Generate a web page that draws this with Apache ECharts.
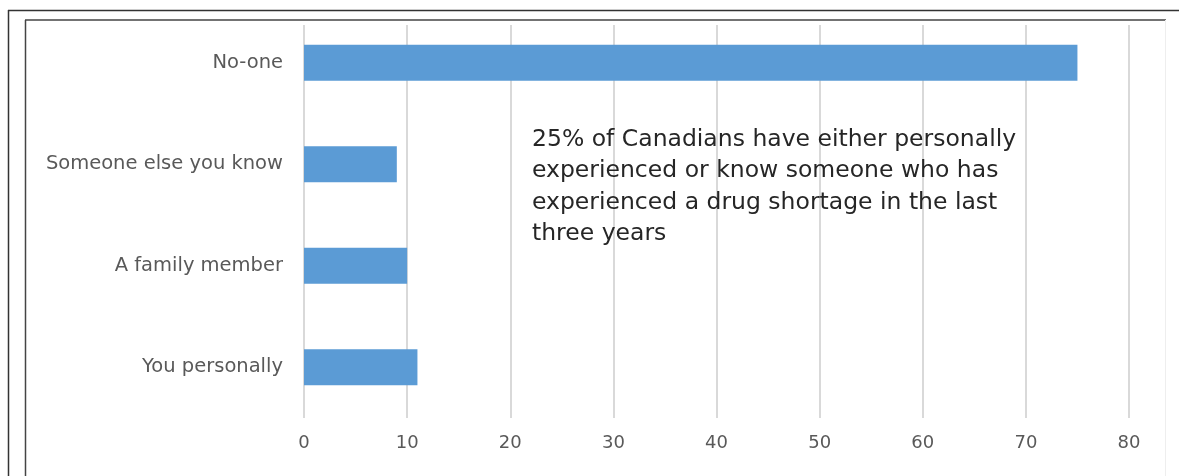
<!DOCTYPE html>
<html>
<head>
<meta charset="utf-8">
<style>
  html, body { margin: 0; padding: 0; background: #fff; }
  #chart { width: 1179px; height: 476px; }
</style>
<script src="https://cdn.jsdelivr.net/npm/echarts@6/dist/echarts.min.js"></script>
</head>
<body>
<div id="chart"></div>
<script>
// Who has experienced a drug shortage in the last three years (percent)
const categories = ['No-one', 'Someone else you know', 'A family member', 'You personally'];
const values = [75, 9, 10, 11];
const xTicks = [0, 10, 20, 30, 40, 50, 60, 70, 80];
const note = [
  '25% of Canadians have either personally',
  'experienced or know someone who has',
  'experienced a drug shortage in the last',
  'three years'
];

const chart = echarts.init(document.getElementById('chart'));
const labelFont = '"DejaVu Sans", sans-serif';
const xMin = xTicks[0], xMax = xTicks[xTicks.length - 1];
const xStep = xTicks[1] - xTicks[0];

chart.setOption({
  animation: false,
  grid: [
    { left: 304, right: 50, top: 12, bottom: 58 },
    { left: 304, right: 50, top: 25, bottom: 58 }
  ],
  xAxis: [
    { gridIndex: 0, type: 'value', min: xMin, max: xMax, interval: xStep,
      show: false },
    { gridIndex: 1, type: 'value', min: xMin, max: xMax, interval: xStep,
      axisLine: { show: false }, axisTick: { show: false },
      splitLine: { show: true, lineStyle: { color: '#d9d9d9', width: 2 } },
      axisLabel: { color: '#595959', fontSize: 18, fontFamily: labelFont, margin: 16 } }
  ],
  yAxis: [
    { gridIndex: 0, type: 'category', data: categories, inverse: true,
      axisLine: { show: false }, axisTick: { show: false },
      axisLabel: { color: '#595959', fontSize: 19.5, fontFamily: labelFont, margin: 21 } },
    { gridIndex: 1, type: 'value', show: false }
  ],
  series: [{
    type: 'bar',
    xAxisIndex: 0, yAxisIndex: 0,
    data: values,
    barWidth: 36,
    itemStyle: { color: '#5b9bd5' },
    z: 3
  }],
  graphic: [
    // outer frame
    { type: 'line', shape: { x1: 8, y1: 10.5, x2: 1179, y2: 10.5 }, style: { stroke: '#333', lineWidth: 1.5 } },
    { type: 'line', shape: { x1: 8.5, y1: 10, x2: 8.5, y2: 476 }, style: { stroke: '#333', lineWidth: 1.5 } },
    // inner frame
    { type: 'line', shape: { x1: 25, y1: 20, x2: 1166, y2: 20 }, style: { stroke: '#444', lineWidth: 1.5 } },
    { type: 'line', shape: { x1: 25.5, y1: 20, x2: 25.5, y2: 476 }, style: { stroke: '#444', lineWidth: 1.5 } },
    { type: 'line', shape: { x1: 1165.5, y1: 20, x2: 1165.5, y2: 476 }, style: { stroke: '#eee', lineWidth: 1 } },
    // annotation
    { type: 'text', left: 532, top: 124, z: 10,
      style: { text: note.join('\n'), font: '23.5px ' + labelFont, fill: '#262626', lineHeight: 31.5 } }
  ]
});
</script>
</body>
</html>
